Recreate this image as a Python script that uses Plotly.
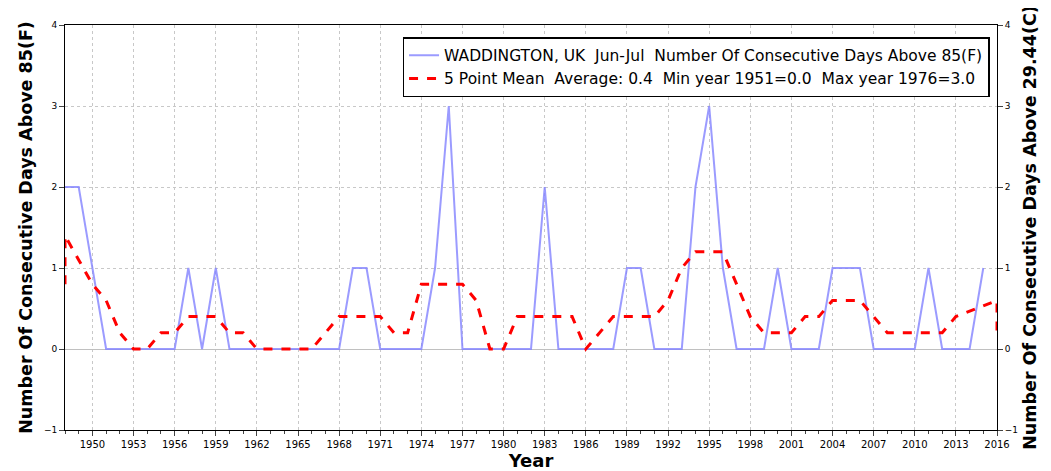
import plotly.graph_objects as go

years = list(range(1948, 2016))
days = [2, 2, 1, 0, 0, 0, 0, 0, 0, 1, 0, 1, 0, 0, 0, 0, 0, 0, 0, 0, 0, 1, 1, 0,
        0, 0, 0, 1, 3, 0, 0, 0, 0, 0, 0, 2, 0, 0, 0, 0, 0, 1, 1, 0, 0, 0, 2, 3,
        1, 0, 0, 0, 1, 0, 0, 0, 1, 1, 1, 0, 0, 0, 0, 1, 0, 0, 0, 1]

mean_years = [1948] + list(range(1948, 2017)) + [2016]
mean_vals = [0.8, 1.4, 1.1, 0.8, 0.6, 0.2, 0, 0, 0.2, 0.2, 0.4, 0.4, 0.4, 0.2, 0.2,
             0, 0, 0, 0, 0, 0.2, 0.4, 0.4, 0.4, 0.4, 0.2, 0.2, 0.8, 0.8, 0.8, 0.8,
             0.6, 0, 0, 0.4, 0.4, 0.4, 0.4, 0.4, 0, 0.2, 0.4, 0.4, 0.4, 0.4, 0.6,
             1.0, 1.2, 1.2, 1.2, 0.8, 0.4, 0.2, 0.2, 0.2, 0.4, 0.4, 0.6, 0.6, 0.6,
             0.4, 0.2, 0.2, 0.2, 0.2, 0.2, 0.4, 0.47, 0.53, 0.6, 0.2]

font = "DejaVu Sans"
fig = go.Figure()
fig.add_trace(go.Scatter(x=years, y=days, mode="lines",
                         line=dict(color="rgba(130,130,255,0.8)", width=2),
                         name="WADDINGTON, UK  Jun-Jul  Number Of Consecutive Days Above 85(F)"))
fig.add_trace(go.Scatter(x=mean_years, y=mean_vals, mode="lines",
                         line=dict(color="#ff0000", width=3, dash="dash"),
                         name="5 Point Mean  Average: 0.4  Min year 1951=0.0  Max year 1976=3.0"))
# dummy trace for right axis
fig.add_trace(go.Scatter(x=[1948], y=[None], yaxis="y2", showlegend=False, hoverinfo="skip"))

fig.update_layout(
    width=1051, height=471, plot_bgcolor="white", paper_bgcolor="white",
    margin=dict(l=57, r=62, t=12, b=48),
    font=dict(family=font, color="black"),
    legend=dict(x=0.992, y=0.97, xanchor="right", yanchor="top", bordercolor="black",
                borderwidth=1.5, font=dict(size=15.5, family=font), bgcolor="white"),
    xaxis=dict(range=[1948, 2016], tickvals=list(range(1950, 2017, 3)), showline=True,
               linecolor="black", mirror=True, ticks="outside", ticklen=5,
               tickfont=dict(size=10), showgrid=True, gridcolor="#c8c8c8", griddash="dot",
               minor=dict(dtick=1, ticks="outside", ticklen=3, tick0=1948),
               title=dict(text="<b>Year</b>", font=dict(size=18), standoff=4), zeroline=False),
    yaxis=dict(range=[-1, 4], dtick=1, showline=True, linecolor="black", ticks="outside",
               ticklen=5, tickfont=dict(size=9), showgrid=True, gridcolor="#c8c8c8",
               griddash="dot", zeroline=True, zerolinecolor="#c0c0c0", zerolinewidth=1,
               title=dict(text="<b>Number Of Consecutive Days Above 85(F)</b>",
                          font=dict(size=17.5), standoff=6)),
    yaxis2=dict(range=[-1, 4], dtick=1, overlaying="y", side="right", showline=True,
                linecolor="black", ticks="outside", ticklen=5, tickfont=dict(size=9),
                showgrid=False, zeroline=False,
                title=dict(text="<b>Number Of Consecutive Days Above 29.44(C)</b>",
                           font=dict(size=17.5), standoff=6)),
)
fig.write_html("out.html")
